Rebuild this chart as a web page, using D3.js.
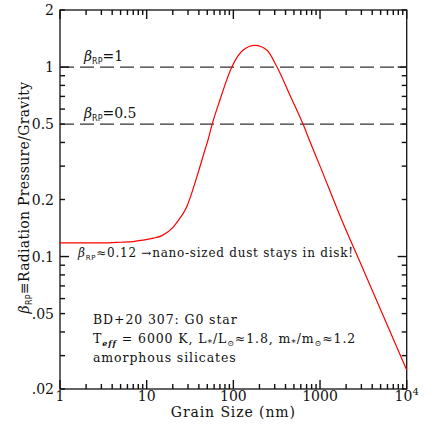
<!DOCTYPE html>
<html lang="en">
<head>
<meta charset="utf-8">
<title>Radiation pressure / gravity</title>
<script src="https://cdn.jsdelivr.net/npm/d3@7"></script>
<style>
  body { margin: 0; background: #fff; }
  svg text { font-family: "DejaVu Serif", serif; fill: #111; }
</style>
</head>
<body>
<div id="chart"></div>
<script>
// grain size (nm) and beta_RP
const grainSize = [1, 2, 3, 5, 7, 9, 12, 15, 20, 22, 29, 38, 47, 51, 57, 70, 96, 130, 178, 243, 319, 450, 637, 753, 1000, 1780, 3000, 10000];
const betaRP = [0.118, 0.118, 0.118, 0.119, 0.120, 0.122, 0.125, 0.129, 0.142, 0.150, 0.183, 0.264, 0.365, 0.412, 0.5, 0.67, 1.0, 1.23, 1.30, 1.23, 1.0, 0.71, 0.5, 0.412, 0.30, 0.156, 0.09, 0.0252];

const xTickLabels = ["1", "10", "100", "1000", "10^4"];
const xTickValues = [1, 10, 100, 1000, 10000];
const yTickValues = [0.02, 0.05, 0.1, 0.2, 0.5, 1, 2];
const yTickLabels = [".02", ".05", "0.1", "0.2", "0.5", "1", "2"];
const refLines = [1, 0.5];
const refLabels = ["1", "0.5"];

const width = 436, height = 436;
const mLeft = 60, mRight = 406.7, mTop = 10, mBottom = 389;

const x = d3.scaleLog().domain([1, 1e4]).range([mLeft, mRight]);
const y = d3.scaleLog().domain([0.02, 2]).range([mBottom, mTop]);

const svg = d3.select("#chart").append("svg")
    .attr("width", width)
    .attr("height", height);

// frame
svg.append("rect")
    .attr("x", mLeft).attr("y", mTop)
    .attr("width", mRight - mLeft).attr("height", mBottom - mTop)
    .attr("fill", "none").attr("stroke", "#111").attr("stroke-width", 1.3);

// tick labels
xTickValues.forEach((v, i) => {
  const t = svg.append("text")
      .attr("x", x(v)).attr("y", 401)
      .attr("text-anchor", "middle")
      .attr("font-size", 14);
  const lab = xTickLabels[i];
  if (lab.includes("^")) {
    const [b, e] = lab.split("^");
    t.append("tspan").text(b);
    t.append("tspan").attr("font-size", 10).attr("dy", -6).text(e);
  } else {
    t.text(lab);
  }
});
yTickValues.forEach((v, i) => {
  svg.append("text")
      .attr("x", 54).attr("y", y(v) + 5)
      .attr("text-anchor", "end")
      .attr("font-size", 14)
      .text(yTickLabels[i]);
});

// axis titles
svg.append("text")
    .attr("x", (mLeft + mRight) / 2).attr("y", 417)
    .attr("text-anchor", "middle")
    .attr("font-size", 14)
    .attr("letter-spacing", 0.9)
    .text("Grain Size (nm)");

const yl = svg.append("text")
    .attr("transform", `translate(29,${(mTop + mBottom) / 2 - 2}) rotate(-90)`)
    .attr("text-anchor", "middle")
    .attr("font-size", 14)
    .attr("letter-spacing", 0.3);
yl.append("tspan").attr("font-style", "italic").text("β");
yl.append("tspan").attr("font-family", "DejaVu Sans").attr("font-size", 8).attr("dy", 3).text("RP");
yl.append("tspan").attr("dy", -3).text("≡Radiation Pressure/Gravity");

// reference lines
refLines.forEach((v, i) => {
  svg.append("line")
      .attr("x1", mLeft).attr("x2", mRight)
      .attr("y1", y(v)).attr("y2", y(v))
      .attr("stroke", "#333").attr("stroke-width", 1.3)
      .attr("stroke-dasharray", "14,6");
  const t = svg.append("text")
      .attr("x", 84).attr("y", y(v) - 6)
      .attr("font-size", 14);
  t.append("tspan").attr("font-style", "italic").text("β");
  t.append("tspan").attr("font-family", "DejaVu Sans").attr("font-size", 8).attr("dy", 3).text("RP");
  t.append("tspan").attr("dy", -3).text("=" + refLabels[i]);
});

// curve
const lineGen = d3.line()
    .x(d => x(d[0]))
    .y(d => y(d[1]))
    .curve(d3.curveMonotoneX);

svg.append("path")
    .datum(grainSize.map((g, i) => [g, betaRP[i]]))
    .attr("fill", "none")
    .attr("stroke", "#ff0000")
    .attr("stroke-width", 1.2)
    .attr("d", lineGen);

// annotation
const an = svg.append("text")
    .attr("x", 78).attr("y", 257)
    .attr("font-size", 12)
    .attr("letter-spacing", 0.75);
an.append("tspan").attr("font-style", "italic").text("β");
an.append("tspan").attr("font-family", "DejaVu Sans").attr("font-size", 7).attr("dy", 3).text("RP");
an.append("tspan").attr("dy", -3).text("≈0.12 →nano-sized dust stays in disk!");

const info = svg.append("g").attr("font-size", 12.5).attr("letter-spacing", 0.9);
info.append("text").attr("x", 93).attr("y", 324).text("BD+20 307:  G0 star");
const l2 = info.append("text").attr("x", 93).attr("y", 343);
l2.append("tspan").text("T");
l2.append("tspan").attr("font-size", 8).attr("font-style", "italic").attr("font-weight", "bold").attr("dy", 3).text("eff");
l2.append("tspan").attr("dy", -3).text(" = 6000 K,  L");
l2.append("tspan").attr("font-size", 9).attr("dy", 3).text("*");
l2.append("tspan").attr("dy", -3).text("/L");
l2.append("tspan").attr("font-size", 8).attr("dy", 3).text("⊙");
l2.append("tspan").attr("dy", -3).text("≈1.8,  m");
l2.append("tspan").attr("font-size", 9).attr("dy", 3).text("*");
l2.append("tspan").attr("dy", -3).text("/m");
l2.append("tspan").attr("font-size", 8).attr("dy", 3).text("⊙");
l2.append("tspan").attr("dy", -3).text("≈1.2");
info.append("text").attr("x", 93).attr("y", 362).text("amorphous silicates");

// minor / major ticks, inward on all four sides, drawn last as filled rects
function logTicks(lo, hi) {
  const out = [];
  for (let e = Math.floor(Math.log10(lo)); e <= Math.ceil(Math.log10(hi)); e++) {
    for (let m = 1; m < 10; m++) {
      const v = m * Math.pow(10, e);
      if (v >= lo * 0.999 && v <= hi * 1.001) out.push({v: v, major: m === 1});
    }
  }
  return out;
}

const tickW = 1.4;
const ticks = svg.append("g").attr("fill", "#111");
logTicks(1, 1e4).forEach(t => {
  const len = t.major ? 9 : 5;
  const px = x(t.v) - tickW / 2;
  ticks.append("rect").attr("x", px).attr("y", mBottom - len).attr("width", tickW).attr("height", len);
  ticks.append("rect").attr("x", px).attr("y", mTop).attr("width", tickW).attr("height", len);
});
logTicks(0.02, 2).forEach(t => {
  const len = t.major ? 9 : 5;
  const py = y(t.v) - tickW / 2;
  ticks.append("rect").attr("x", mLeft).attr("y", py).attr("width", len).attr("height", tickW);
  ticks.append("rect").attr("x", mRight - len).attr("y", py).attr("width", len).attr("height", tickW);
});
</script>
</body>
</html>
